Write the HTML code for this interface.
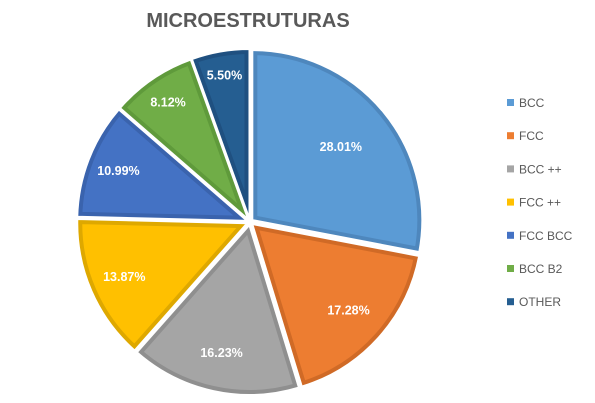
<!DOCTYPE html>
<html><head><meta charset="utf-8"><style>
body{margin:0;background:#fff;font-family:"Liberation Sans",Arial,sans-serif;}
svg{display:block}
</style></head><body>
<svg id="chart" width="595" height="403" xmlns="http://www.w3.org/2000/svg">
<text x="248" y="27" text-anchor="middle" font-size="20" font-weight="bold" fill="#595959" font-family="Liberation Sans, Arial, sans-serif">MICROESTRUTURAS</text>
<g id="slices"></g><g id="labels"></g><g id="legend"></g>
</svg>
<script>
const categories=["BCC","FCC","BCC ++","FCC ++","FCC BCC","BCC B2","OTHER"];
const values=[28.01,17.28,16.23,13.87,10.99,8.12,5.50];
const valueLabels=["28.01%","17.28%","16.23%","13.87%","10.99%","8.12%","5.50%"];
const colors=["#5b9bd5","#ed7d31","#a5a5a5","#ffc000","#4472c4","#70ad47","#255e91"];
const borders=["#4e87bd","#d06a26","#8f8f8f","#dea800","#3a63ad","#5f9a3b","#1f5080"];
const NS="http://www.w3.org/2000/svg";
const cx=250,cy=222,R=170,explode=3;
const total=values.reduce((a,b)=>a+b,0);
const sl=document.getElementById('slices'),lb=document.getElementById('labels'),lg=document.getElementById('legend');
let start=0;
values.forEach((v,i)=>{
  const a0=start/total*2*Math.PI,a1=(start+v)/total*2*Math.PI;start+=v;
  const am=(a0+a1)/2;
  const ox=cx+explode*Math.sin(am),oy=cy-explode*Math.cos(am);
  const p=(a,r)=>[ox+r*Math.sin(a),oy-r*Math.cos(a)];
  const [x0,y0]=p(a0,R),[x1,y1]=p(a1,R);
  const d=`M${ox},${oy}L${x0},${y0}A${R},${R} 0 ${a1-a0>Math.PI?1:0} 1 ${x1},${y1}Z`;
  const cp=document.createElementNS(NS,'clipPath');cp.setAttribute('id','c'+i);
  const cpp=document.createElementNS(NS,'path');cpp.setAttribute('d',d);cp.appendChild(cpp);sl.appendChild(cp);
  const path=document.createElementNS(NS,'path');
  
  
  path.setAttribute('d',d);path.setAttribute('fill',colors[i]);path.setAttribute('stroke',borders[i]);
  path.setAttribute('stroke-width','10');path.setAttribute('clip-path','url(#c'+i+')');
  sl.appendChild(path);
  const w=document.createElementNS(NS,'path');w.setAttribute('d',d);w.setAttribute('fill','none');w.setAttribute('stroke','#fff');w.setAttribute('stroke-width','2');
  
  
  sl.appendChild(w);
  const frac=Math.min(0.86,Math.max(0.62,0.9-0.008*v));
  const [lx,ly]=p(am,R*frac);
  const t=document.createElementNS(NS,'text');
  
  
  t.setAttribute('x',lx);t.setAttribute('y',ly+4);t.setAttribute('text-anchor','middle');
  t.setAttribute('font-size','12.5');t.setAttribute('font-weight','bold');t.setAttribute('fill','#fff');
  t.textContent=valueLabels[i];lb.appendChild(t);
  const ly2=103+i*33.2;
  const r=document.createElementNS(NS,'rect');
  
  
  r.setAttribute('x',507);r.setAttribute('y',ly2-4);r.setAttribute('width',7);r.setAttribute('height',7);r.setAttribute('fill',colors[i]);lg.appendChild(r);
  const lt=document.createElementNS(NS,'text');
  
  
  lt.setAttribute('x',519);lt.setAttribute('y',ly2+4);lt.setAttribute('font-size','12');lt.setAttribute('fill','#595959');
  lt.textContent=categories[i];lg.appendChild(lt);
});
</script>
</body></html>
